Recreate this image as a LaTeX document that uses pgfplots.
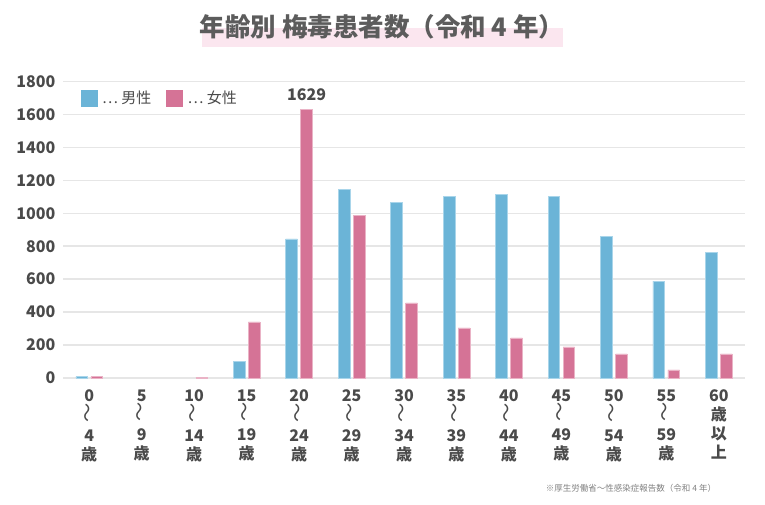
\documentclass[border=0pt]{standalone}
\usepackage{pgfplots}
\pgfplotsset{compat=1.18}
\usepackage{fontspec}
\setmainfont{Noto Sans CJK JP}
\definecolor{male}{HTML}{6BB4D7}
\definecolor{maleedge}{HTML}{A9D5EA}
\definecolor{female}{HTML}{D57396}
\definecolor{femaleedge}{HTML}{EAB3C6}
\definecolor{txt}{HTML}{4A4A4A}
\definecolor{gridc}{HTML}{E6E6E6}
\definecolor{band}{HTML}{FBE6EF}
\newcommand{\w}{{\mdseries\scalebox{1.2}{\rotatebox{90}{〜}}}}
\begin{document}
\begin{tikzpicture}[x=1pt,y=1pt]
\path[use as bounding box] (0,0) rectangle (765,505);
\fill[band] (202,458) rectangle (563,477);
\node[text=txt!90!white, font=\fontsize{25.5}{25.5}\selectfont\bfseries] at (382,478.5) {年齢別 梅毒患者数（令和 4 年）};
\node[text=txt!70!white, font=\fontsize{8.5}{9}\selectfont] at (631,17) {※厚生労働省～性感染症報告数（令和 4 年）};
\begin{axis}[
  at={(63pt,127pt)}, anchor=south west,
  scale only axis, width=682pt, height=296.5pt,
  xmin=-0.5, xmax=12.5, ymin=0, ymax=1800,
  ytick={0,200,...,1800},
  xtick={0,...,12},
  xticklabels={{0\\\w\\4\\歳},{5\\\w\\9\\歳},{10\\\w\\14\\歳},{15\\\w\\19\\歳},{20\\\w\\24\\歳},{25\\\w\\29\\歳},{30\\\w\\34\\歳},{35\\\w\\39\\歳},{40\\\w\\44\\歳},{45\\\w\\49\\歳},{50\\\w\\54\\歳},{55\\\w\\59\\歳},{60\\歳\\以\\上}},
  xticklabel style={align=center, font=\fontsize{16}{19}\selectfont\bfseries, text=txt, anchor=north, yshift=-4pt},
  yticklabel style={font=\fontsize{16}{16}\selectfont\bfseries, text=txt, xshift=-4pt},
  /pgf/number format/assume math mode=true,
  /pgf/number format/1000 sep={},
  axis line style={draw=none},
  tick style={draw=none},
  ymajorgrids, grid style={color=gridc, line width=1.5pt},
  ybar, bar width=11.7pt,
  clip=false,
  legend style={at={(0.026,0.975)}, anchor=north west, draw=none, fill=none, inner sep=0pt,
    font=\fontsize{15}{15}\selectfont, text=txt,
    /tikz/every even column/.append style={column sep=10pt},
    nodes={inner xsep=5pt}},
  legend columns=2,
]
\addplot[fill=male, draw=maleedge, line width=0.6pt, bar shift=-7.5pt,
  legend image code/.code={\fill[male] (0pt,-7.8pt) rectangle (15.6pt,7.8pt);}]
  coordinates {(0,8) (3,103) (4,845) (5,1143) (6,1064) (7,1101) (8,1113) (9,1101) (10,858) (11,588) (12,764)};
\addlegendentry{… 男性}
\addplot[fill=female, draw=femaleedge, line width=0.6pt, bar shift=7.5pt,
  legend image code/.code={\fill[female] (0pt,-7.8pt) rectangle (15.6pt,7.8pt);}]
  coordinates {(0,8) (2,3) (3,340) (4,1629) (5,985) (6,456) (7,304) (8,243) (9,189) (10,146) (11,49) (12,146)};
\addlegendentry{… 女性}
\node[font=\fontsize{16}{16}\selectfont\bfseries, text=txt, anchor=south] at (axis cs:4,1629) [xshift=7.5pt, yshift=5pt] {1629};
\end{axis}
\end{tikzpicture}
\end{document}
